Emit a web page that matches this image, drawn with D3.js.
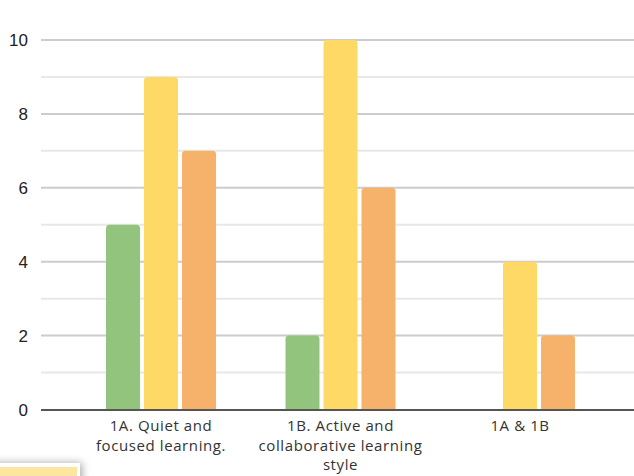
<!DOCTYPE html>
<html><head><meta charset="utf-8">
<script src="https://cdn.jsdelivr.net/npm/d3@7"></script>
<style>html,body{margin:0;padding:0;background:#fff;}svg{display:block;}</style>
</head><body>
<svg id="chart" width="634" height="476"></svg>
<script>
const categories = [["1A. Quiet and","focused learning."],["1B. Active and","collaborative learning","style"],["1A & 1B"]];
const categoryKeys = ["1A","1B","1A & 1B"];
const seriesNames = ["s1","s2","s3"];
const seriesColors = ["#93c47d","#ffd966","#f6b26b"];
const values = [[5,9,7],[2,10,6],[0,4,2]];
const yTicks = [0,2,4,6,8,10];
const gridTicks = [0,1,2,3,4,5,6,7,8,9,10];

const svg = d3.select("#chart");
const y = d3.scaleLinear().domain([0,10]).range([409.5,40]);
const x0 = d3.scaleBand().domain(categoryKeys).range([71.25,609.75]).paddingInner(0).paddingOuter(0);
const x1 = d3.scaleBand().domain(seriesNames).range([0,110]).paddingInner(4/38).paddingOuter(0);

const defs = svg.append("defs");
const f = defs.append("filter").attr("id","sh").attr("x","-20%").attr("y","-50%").attr("width","160%").attr("height","250%");
f.append("feDropShadow").attr("dx",2).attr("dy",0).attr("stdDeviation",4).attr("flood-color","#000").attr("flood-opacity",0.35);

svg.append("g").selectAll("line").data(gridTicks.filter(d=>d>0)).join("line")
  .attr("x1",41).attr("x2",634)
  .attr("y1",d=>y(d)).attr("y2",d=>y(d))
  .attr("stroke",d=>d%2===0?"#cccccc":"#e8e8e8")
  .attr("stroke-width",2);

svg.append("g").selectAll("text").data(yTicks).join("text")
  .attr("x",28).attr("y",d=>y(d)).attr("dy","0.36em")
  .attr("text-anchor","end")
  .attr("font-family","Liberation Sans, Arial, sans-serif")
  .attr("font-size",17).attr("fill","#222")
  .text(d=>d);

function barPath(x,yt,w,h,r){
  if(h<=0) return "";
  r=Math.min(r,h,w/2);
  return `M${x},${yt+h}V${yt+r}Q${x},${yt} ${x+r},${yt}H${x+w-r}Q${x+w},${yt} ${x+w},${yt+r}V${yt+h}Z`;
}
const groups = svg.append("g").selectAll("g").data(categoryKeys).join("g")
  .attr("transform",k=>`translate(${x0(k)+x0.bandwidth()/2-55},0)`);
groups.selectAll("path").data((k,i)=>values[i].map((v,j)=>({v,j}))).join("path")
  .attr("d",d=>barPath(x1(seriesNames[d.j]),y(d.v),x1.bandwidth(),y(0)-y(d.v),3.5))
  .attr("fill",d=>seriesColors[d.j]);

svg.append("line").attr("x1",41).attr("x2",634).attr("y1",y(0)+0.5).attr("y2",y(0)+0.5)
  .attr("stroke","#555").attr("stroke-width",2);

const xl = svg.append("g").selectAll("text").data(categoryKeys).join("text")
  .attr("x",k=>x0(k)+x0.bandwidth()/2)
  .attr("y",431)
  .attr("text-anchor","middle")
  .attr("font-family","Open Sans, sans-serif")
  .attr("font-size",15).attr("letter-spacing",0.6).attr("fill","#333");
xl.selectAll("tspan").data((k,i)=>categories[i]).join("tspan")
  .attr("x",function(){return this.parentNode.getAttribute("x");})
  .attr("dy",(d,i)=>i===0?0:19.5)
  .text(d=>d);

svg.append("rect").attr("x",-10).attr("y",463).attr("width",90).attr("height",30).attr("fill","#fff").attr("filter","url(#sh)");
svg.append("rect").attr("x",0).attr("y",467).attr("width",77).attr("height",12).attr("fill","#fce59f");
</script>
</body></html>
